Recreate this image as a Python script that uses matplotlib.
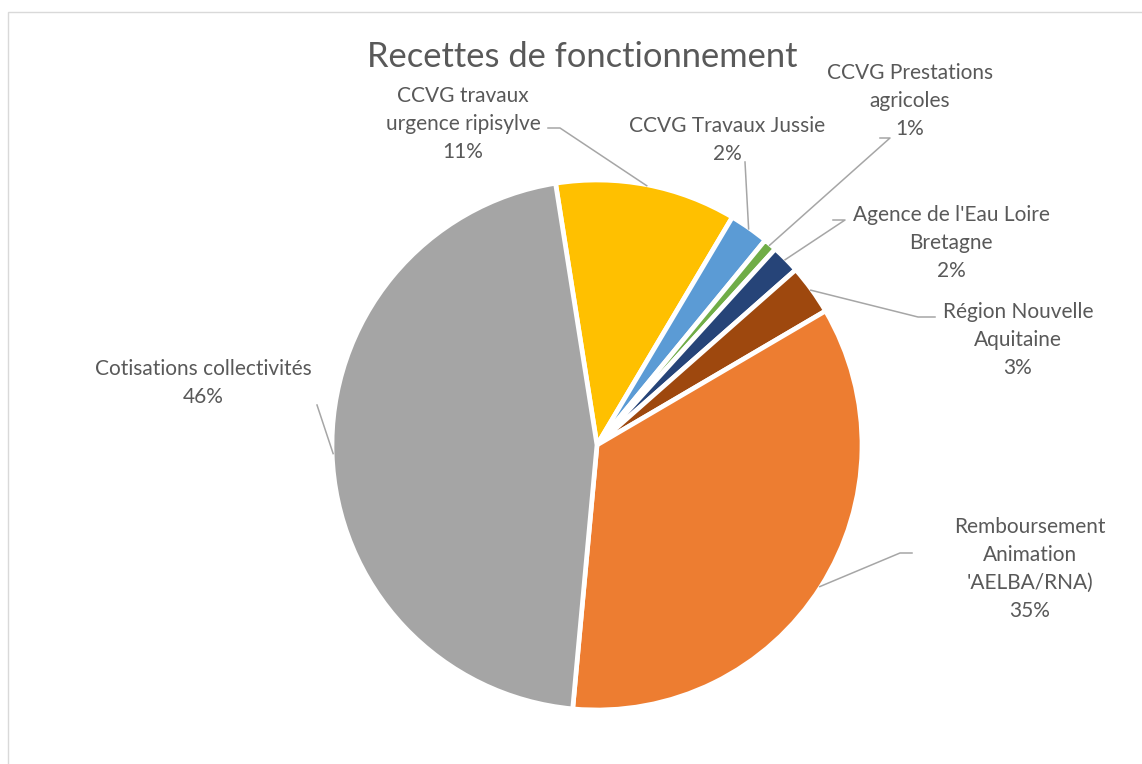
import matplotlib.pyplot as plt
from matplotlib.patches import Rectangle
import numpy as np

plt.rcParams['font.family'] = ['Lato', 'DejaVu Sans']

# data, in clockwise order starting just left of 12 o'clock
labels = ["CCVG travaux\nurgence ripisylve",
          "CCVG Travaux Jussie",
          "CCVG Prestations\nagricoles",
          "Agence de l'Eau Loire\nBretagne",
          "Région Nouvelle\nAquitaine",
          "Remboursement\nAnimation\n'AELBA/RNA)",
          "Cotisations collectivités"]
values = [11.0, 2.4, 0.8, 1.75, 3.05, 34.8, 45.9]
colors = ['#FFC000', '#5B9BD5', '#70AD47', '#264478', '#9E480E', '#ED7D31', '#A5A5A5']

W, H = 1142, 764
TXT = '#595959'
LINE = '#A6A6A6'

def P(x, y):
    # pixel coords (y down) -> axes coords
    return x, H - y

fig = plt.figure(figsize=(W / 100, H / 100), dpi=100)
ax = fig.add_axes([0, 0, 1, 1])

# chart frame
ax.add_patch(Rectangle(P(8, 800), 1200, 788, fill=False, edgecolor='#D9D9D9', lw=1))

cx, cy = P(597, 445)
R = 265
wedges, _ = ax.pie(values, colors=colors, startangle=99, counterclock=False,
                   center=(cx, cy), radius=R,
                   wedgeprops=dict(edgecolor='white', linewidth=3.4))
ax.set_xlim(0, W)
ax.set_ylim(0, H)
ax.set_aspect('equal')
ax.axis('off')

ax.text(*P(582, 57), "Recettes de fonctionnement", ha='center', va='center',
        fontsize=24.8, color=TXT)

# label text centers and leader elbows (pixel coords)
label_pos = [(463, 124), (727, 140), (910, 101), (951, 243), (1018, 340), (1030, 569), (203, 383)]
elbows = [[(560, 128), (548, 128)],
          [(745, 162)],
          [(890, 138), (880, 138)],
          [(845, 220), (833, 220)],
          [(918, 317), (935, 317)],
          [(900, 553), (912, 553)],
          [(317, 405)]]

total = sum(values)
for w, lab, v, pos, el in zip(wedges, labels, values, label_pos, elbows):
    pct = round(100 * v / total)
    ax.text(*P(*pos), f"{lab}\n{pct}%", ha='center', va='center', fontsize=15.0,
            color=TXT, linespacing=1.5)
    mid = np.deg2rad((w.theta1 + w.theta2) / 2)
    x0, y0 = cx + (R - 1) * np.cos(mid), cy + (R - 1) * np.sin(mid)
    xs = [x0] + [P(*e)[0] for e in el]
    ys = [y0] + [P(*e)[1] for e in el]
    ax.plot(xs, ys, color=LINE, lw=1.1)

fig.savefig('out.png', dpi=100, facecolor='white')
